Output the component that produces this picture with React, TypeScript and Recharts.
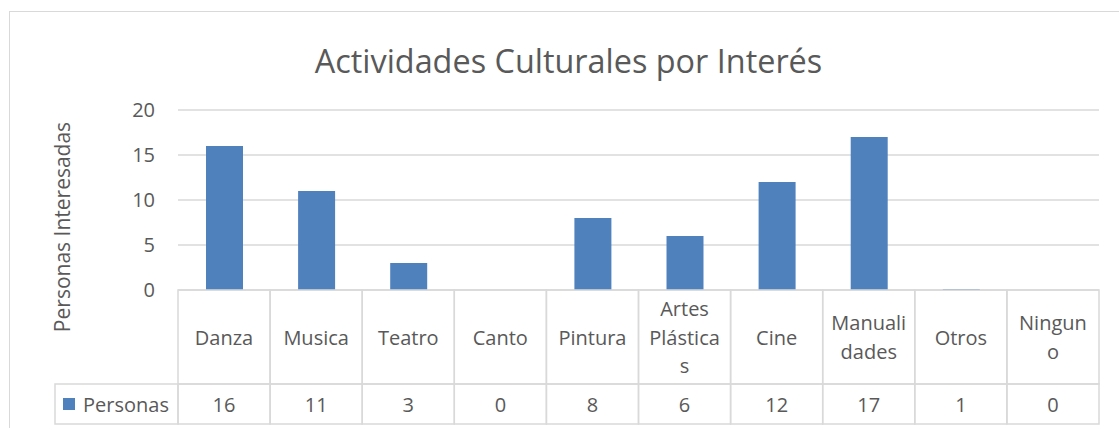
import React from 'react';
import { BarChart, Bar, XAxis, YAxis, CartesianGrid } from 'recharts';

const title = 'Actividades Culturales por Interés';
const yLabel = 'Personas Interesadas';
const seriesName = 'Personas';
const categories = ['Danza', 'Musica', 'Teatro', 'Canto', 'Pintura', 'Artes Plásticas', 'Cine', 'Manualidades', 'Otros', 'Ninguno'];
const categoryLines = [['Danza'], ['Musica'], ['Teatro'], ['Canto'], ['Pintura'], ['Artes', 'Plástica', 's'], ['Cine'], ['Manuali', 'dades'], ['Otros'], ['Ningun', 'o']];
// values shown in the data table
const personas = [16, 11, 3, 0, 8, 6, 12, 17, 1, 0];
// bar heights as drawn in the picture (the Otros bar appears as a hairline)
const barHeights = [16, 11, 3, 0, 8, 6, 12, 17, 0.1, 0];
const yTicks = [0, 5, 10, 15, 20];

const data = categories.map((c, i) => ({ name: c, value: barHeights[i] }));

const W = 1119;
const H = 428;
const M_TOP = 110;
const M_RIGHT = 20;
const Y_W = 178;
const X_H = 138;
const BAND = (W - M_RIGHT - Y_W) / categories.length;
const FONT = '"Open Sans", sans-serif';
const TXT = '#595959';
const GRID = '#d9d9d9';
const BLUE = '#4f81bd';

const TableTick = (props: any) => {
  const { x, y, payload } = props;
  const i = payload.index;
  const lines = categoryLines[i] || [String(payload.value)];
  const left = x - BAND / 2;
  const lh = 28.5;
  const mid = y + 47;
  const start = mid - ((lines.length - 1) * lh) / 2;
  return (
    <g>
      <rect x={left} y={y} width={BAND} height={94} fill="none" stroke={GRID} strokeWidth={1.5} />
      <rect x={left} y={y + 94} width={BAND} height={40} fill="none" stroke={GRID} strokeWidth={1.5} />
      {lines.map((l, k) => (
        <text key={k} x={x} y={start + k * lh} textAnchor="middle" dominantBaseline="central" fill={TXT} fontSize={20} fontFamily={FONT}>
          {l}
        </text>
      ))}
      <text x={x} y={y + 114} textAnchor="middle" dominantBaseline="central" fill={TXT} fontSize={20} fontFamily={FONT}>
        {personas[i]}
      </text>
      {i === 0 && (
        <g>
          <rect x={55} y={y + 94} width={left - 55} height={40} fill="none" stroke={GRID} strokeWidth={1.5} />
          <rect x={63} y={y + 108} width={12} height={12} fill={BLUE} />
          <text x={83} y={y + 114} dominantBaseline="central" fill={TXT} fontSize={20} fontFamily={FONT}>
            {seriesName}
          </text>
        </g>
      )}
    </g>
  );
};

const YLabel = (props: any) => {
  return (
    <text x={62} y={227} transform="rotate(-90 62 227)" textAnchor="middle" dominantBaseline="central" fill={TXT} fontSize={21} fontFamily={FONT}>
      {yLabel}
    </text>
  );
};

export default function App() {
  return (
    <div style={{ position: 'absolute', left: 0, top: 0, width: W, height: H, overflow: 'hidden', background: '#fff' }}>
      <div style={{ position: 'absolute', left: 9, top: 11, width: 1200, height: 600, border: `1.5px solid ${GRID}`, boxSizing: 'border-box' }} />
      <div style={{ position: 'absolute', left: 0, top: 38, width: 1137, textAlign: 'center', fontFamily: FONT, fontSize: 32.4, color: TXT, lineHeight: '44px' }}>
        {title}
      </div>
      <div style={{ position: 'absolute', left: 0, top: 0 }}>
        <BarChart width={W} height={H} data={data} margin={{ top: M_TOP, right: M_RIGHT, left: 0, bottom: 0 }}>
          <CartesianGrid vertical={false} stroke={GRID} strokeWidth={1.3} />
          <XAxis dataKey="name" height={X_H} axisLine={false} tickLine={false} tickSize={0} tickMargin={0} interval={0} tick={<TableTick />} />
          <YAxis
            width={Y_W}
            domain={[0, 20]}
            ticks={yTicks}
            axisLine={false}
            tickLine={false}
            tickSize={0}
            tickMargin={23}
            tick={{ fill: TXT, fontSize: 20, fontFamily: FONT }}
            label={<YLabel />}
          />
          <Bar dataKey="value" fill={BLUE} barSize={37} isAnimationActive={false} />
        </BarChart>
      </div>
    </div>
  );
}
